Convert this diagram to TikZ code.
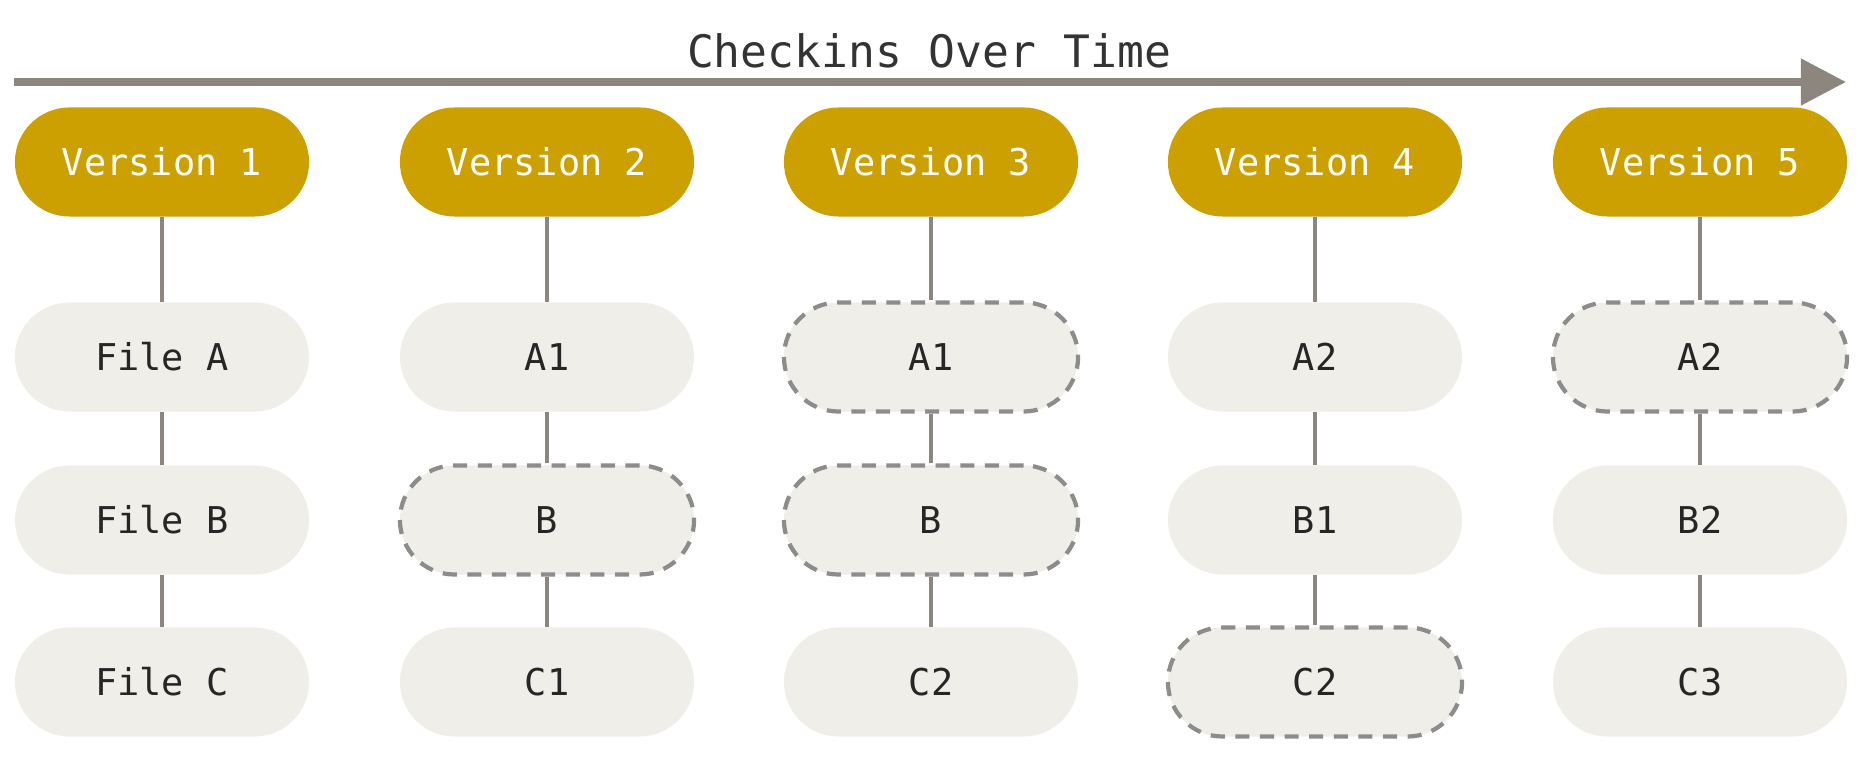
\documentclass[tikz,border=0pt]{standalone}
\usepackage{fontspec}
\setmonofont{DejaVu Sans Mono}
\usetikzlibrary{arrows.meta}
\definecolor{gold}{HTML}{CCA000}
\definecolor{paper}{HTML}{EFEEE8}
\definecolor{line}{HTML}{8C867F}
\begin{document}
\begin{tikzpicture}[x=0.01cm,y=-0.01cm,
    pill/.style={rounded rectangle,minimum width=2.94cm,minimum height=1.09cm,
      fill=paper,font=\ttfamily\fontsize{10.5}{12}\selectfont,text=black!85},
    ver/.style={pill,fill=gold,text=white},
    same/.style={pill,draw=black!45,dashed,line width=1.2pt,dash pattern=on 4pt off 3pt},
    link/.style={line,line width=1.4pt}]
  \useasboundingbox (0,0) rectangle (1860,762);
  \tikzset{rounded rectangle/.style={rectangle,rounded corners=0.545cm}}
  \draw
    (162,162) node[ver] (v1){Version 1}
    (547,162) node[ver] (v2){Version 2}
    (931,162) node[ver] (v3){Version 3}
    (1315,162) node[ver] (v4){Version 4}
    (1700,162) node[ver] (v5){Version 5}
    (162,357) node[pill] (a1){File A}
    (162,520) node[pill] (b1){File B}
    (162,682) node[pill] (c1){File C}
    (547,357) node[pill] (a2){A1}
    (547,520) node[same] (b2){B}
    (547,682) node[pill] (c2){C1}
    (931,357) node[same] (a3){A1}
    (931,520) node[same] (b3){B}
    (931,682) node[pill] (c3){C2}
    (1315,357) node[pill] (a4){A2}
    (1315,520) node[pill] (b4){B1}
    (1315,682) node[same] (c4){C2}
    (1700,357) node[same] (a5){A2}
    (1700,520) node[pill] (b5){B2}
    (1700,682) node[pill] (c5){C3};
  \begin{scope}[link]
    \foreach \i in {1,...,5} {
      \draw (v\i) to (a\i);
      \draw (a\i) to (b\i);
      \draw (b\i) to (c\i);
    }
  \end{scope}
  \coordinate (t0) at (14,82);
  \coordinate (t1) at (1846,82);
  \draw[line,line width=2.2pt,-{Triangle[length=0.45cm,width=0.45cm]}] (t0) to (t1);
  \node[font=\ttfamily\fontsize{12.7}{14}\selectfont,text=black!80] (title) at (929,51) {Checkins Over Time};
\end{tikzpicture}
\end{document}
